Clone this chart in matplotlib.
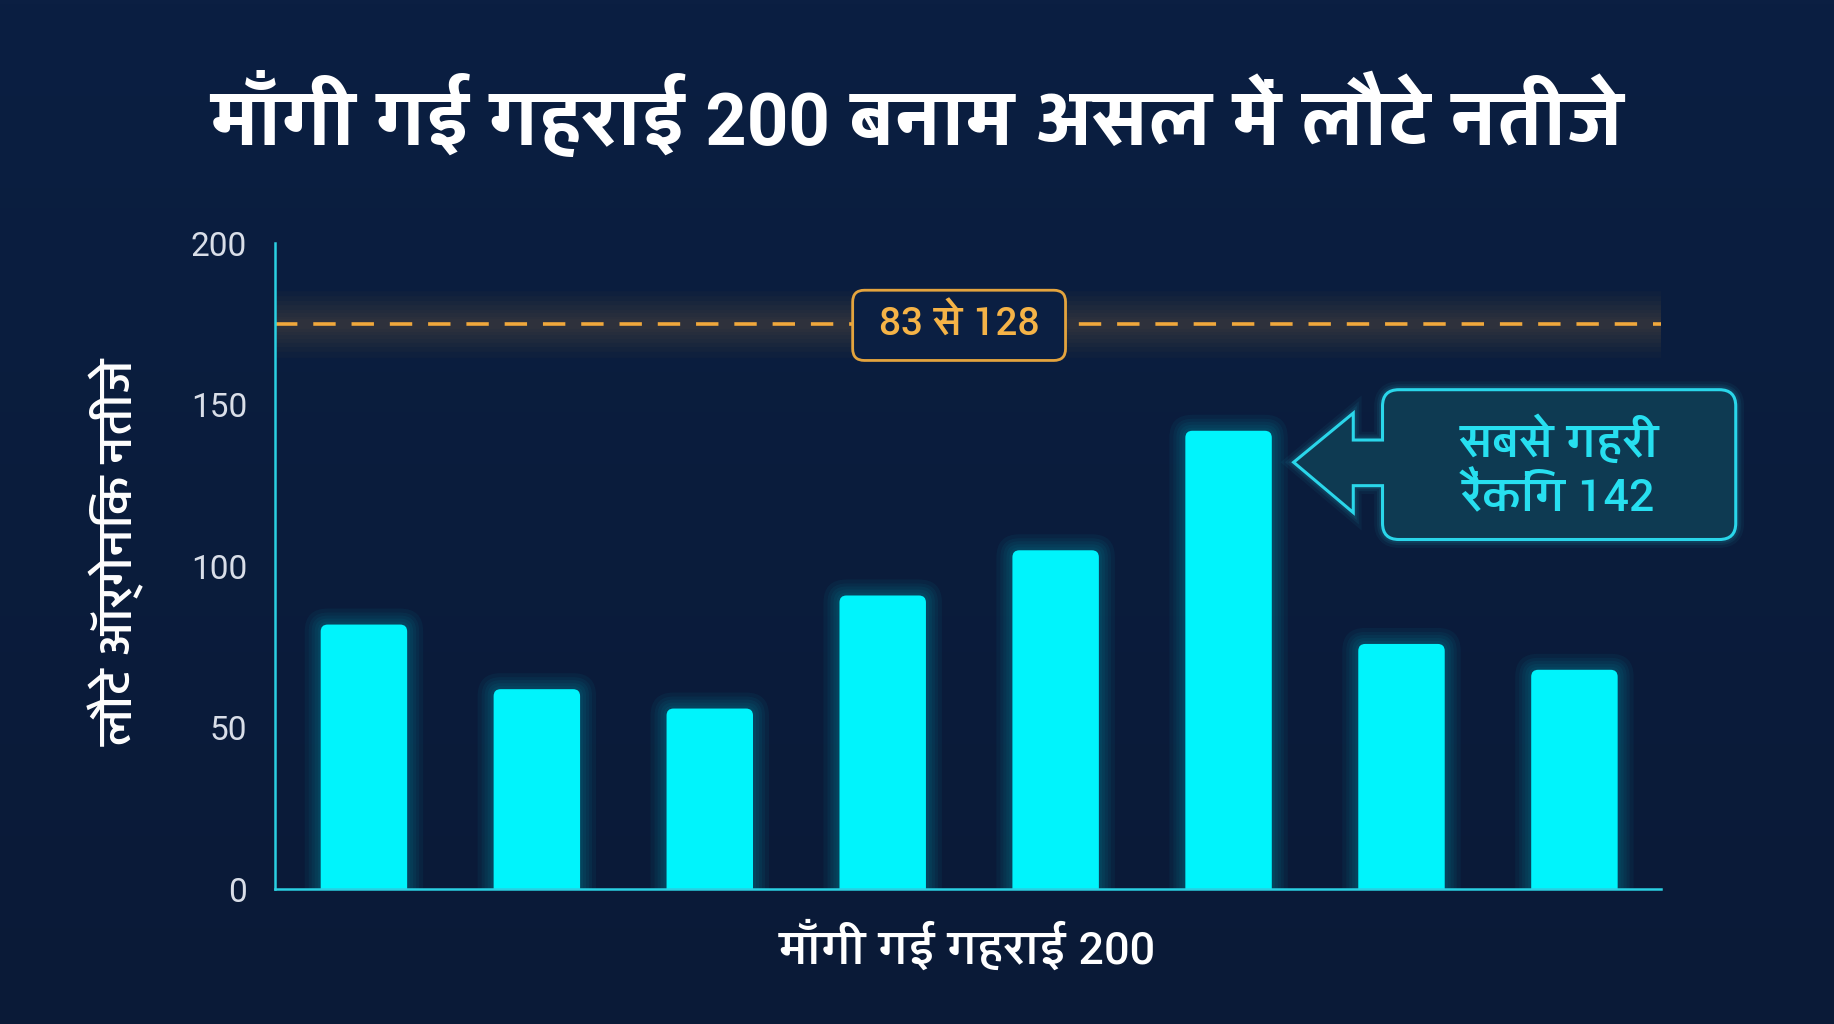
import matplotlib
matplotlib.use('Agg')
import matplotlib.pyplot as plt
from matplotlib import font_manager as fm
from matplotlib.ft2font import FT2Font
from matplotlib.patches import FancyBboxPatch, PathPatch
from matplotlib.path import Path
from matplotlib.colors import LinearSegmentedColormap
import numpy as np

# ---------------- data ----------------
categories = ['1', '2', '3', '4', '5', '6', '7', '8']
values = [82, 62, 56, 91, 105, 142, 76, 68]
ref_line_value = 175
y_ticks = [0, 50, 100, 150, 200]
title_text = "माँगी गई गहराई 200 बनाम असल में लौटे नतीजे"
xlabel_text = "माँगी गई गहराई 200"
ylabel_text = "लौटे ऑर्गेनिक नतीजे"
range_text = "83 से 128"
callout_text = "सबसे गहरी\nरैंकिंग 142"

# ---------------- fonts ----------------
def has_deva(name):
    for f in fm.fontManager.ttflist:
        if f.name == name:
            try:
                return 0x0915 in FT2Font(f.fname).get_charmap()
            except Exception:
                return False
    return False

prefs = ['Yantramanav', 'Noto Sans Devanagari', 'Mukta', 'Hind', 'FreeSans']
chosen = next((p for p in prefs if has_deva(p)), None)
family = ([chosen] if chosen else []) + ['Roboto', 'DejaVu Sans']
plt.rcParams['font.family'] = family

BG_TOP = '#0b1f42'
BG_BOT = '#0a1a37'
CYAN = '#00f4fc'
EDGE = '#2ad0e2'
ORANGE = '#f0a83c'

W, H = 1568, 875  # reference layout units
fig = plt.figure(figsize=(18.34, 10.24), dpi=100)
fig.patch.set_facecolor(BG_TOP)

bg = fig.add_axes([0, 0, 1, 1], zorder=0)
bg.axis('off')
grad = np.linspace(0, 1, 256)[:, None]
cmap = LinearSegmentedColormap.from_list('bg', [BG_TOP, BG_BOT])
bg.imshow(grad, aspect='auto', cmap=cmap, extent=[0, 1, 0, 1], origin='upper')
bg.set_xlim(0, 1); bg.set_ylim(0, 1)

ax = fig.add_axes([235 / W, 1 - 760 / H, (1420 - 235) / W, (760 - 208) / H], zorder=1)
ax.set_facecolor('none')
x = np.arange(len(categories))
ax.set_xlim(-0.515, 7.5)
ax.set_ylim(0, 200)
for s in ['top', 'right']:
    ax.spines[s].set_visible(False)
for s in ['left', 'bottom']:
    ax.spines[s].set_color(EDGE)
    ax.spines[s].set_linewidth(1.8)
    ax.spines[s].set_zorder(6)
ax.set_xticks([])
ax.set_yticks(y_ticks)
ax.tick_params(axis='y', length=0, pad=20, labelsize=24, labelcolor='#d9dee8')
for lab in ax.get_yticklabels():
    lab.set_family(['Roboto', 'DejaVu Sans'])

p0 = ax.transData.transform((0, 0))
px_x = ax.transData.transform((1, 0))[0] - p0[0]
px_y = ax.transData.transform((0, 1))[1] - p0[1]
asp = px_x / px_y
unit = 1.0 / px_x

bars = ax.bar(x, values, width=0.5, color=CYAN, zorder=3)
for b in bars:
    bx, bw, bh = b.get_x(), b.get_width(), b.get_height()
    b.set_visible(False)
    for pad_px in [16, 12, 9, 6, 3]:
        g = FancyBboxPatch((bx, -30), bw, bh + 30,
                           boxstyle=f"round,pad={pad_px * unit},rounding_size={(7 + pad_px) * unit}",
                           mutation_aspect=asp, facecolor=CYAN, edgecolor='none',
                           alpha=0.045, zorder=2)
        ax.add_patch(g)
    rb = FancyBboxPatch((bx, -30), bw, bh + 30,
                        boxstyle=f"round,pad=0,rounding_size={7 * unit}",
                        mutation_aspect=asp, facecolor=CYAN, edgecolor='none', zorder=3)
    ax.add_patch(rb)

for lw in [48, 40, 33, 27, 21, 16, 11, 7]:
    ax.axhline(ref_line_value, color=ORANGE, lw=lw, alpha=0.022, zorder=2, solid_capstyle='butt')
ax.axhline(ref_line_value, color=ORANGE, lw=2.6, dashes=(6.2, 4.4), zorder=4)

ov = fig.add_axes([0, 0, 1, 1], zorder=5)
ov.set_xlim(0, W)
ov.set_ylim(H, 0)
ov.axis('off')
ov.set_facecolor('none')

ov.text(W / 2, 100, title_text, ha='center', va='center', color='white',
        fontsize=58, fontweight='bold')
ov.text(827, 810, xlabel_text, ha='center', va='center', color='white', fontsize=36,
        fontweight='medium')
ov.text(100, 472, ylabel_text, ha='center', va='center', color='white', fontsize=36,
        rotation=90, fontweight='medium')

rbox = FancyBboxPatch((729, 248), 182, 60, boxstyle="round,pad=0,rounding_size=10",
                      facecolor=BG_TOP, edgecolor='#e4a43e', lw=2)
ov.add_patch(rbox)
ov.text(820, 278, range_text, ha='center', va='center', color='#f5b347',
        fontsize=31, fontweight='medium')

x0, x1, y0, y1, r = 1182, 1484, 333, 461, 14
tipx, tipy, hx, ht, hb, st, sb = 1106, 395, 1157, 353, 438, 376, 415
verts = [(x0 + r, y0), (x1 - r, y0), (x1, y0), (x1, y0 + r), (x1, y1 - r), (x1, y1), (x1 - r, y1),
         (x0 + r, y1), (x0, y1), (x0, y1 - r), (x0, sb), (hx, sb), (hx, hb), (tipx, tipy),
         (hx, ht), (hx, st), (x0, st), (x0, y0 + r), (x0, y0), (x0 + r, y0), (x0 + r, y0)]
codes = [Path.MOVETO, Path.LINETO, Path.CURVE3, Path.CURVE3, Path.LINETO, Path.CURVE3, Path.CURVE3,
         Path.LINETO, Path.CURVE3, Path.CURVE3, Path.LINETO, Path.LINETO, Path.LINETO, Path.LINETO,
         Path.LINETO, Path.LINETO, Path.LINETO, Path.LINETO, Path.CURVE3, Path.CURVE3, Path.CLOSEPOLY]
cpath = Path(verts, codes)
for lw, al in [(12, 0.05), (8, 0.07), (5, 0.09)]:
    ov.add_patch(PathPatch(cpath, facecolor='none', edgecolor=EDGE, lw=lw, alpha=al))
ov.add_patch(PathPatch(cpath, facecolor='#0e3a52', edgecolor='#2ad6ea', lw=2.2))
ov.text(1333, 401, callout_text, ha='center', va='center', color='#27dff0',
        fontsize=36, fontweight='medium', linespacing=1.25)

fig.savefig('out.png', dpi=100, facecolor=fig.get_facecolor())
